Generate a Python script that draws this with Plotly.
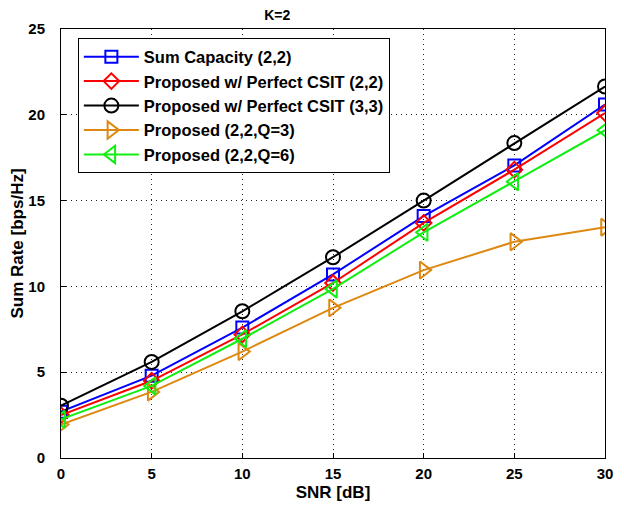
import plotly.graph_objects as go

snr = [0, 5, 10, 15, 20, 25, 30]
sum_cap_22 = [2.7, 4.8, 7.6, 10.7, 14.1, 17.05, 20.6]
perf_22 = [2.5, 4.5, 7.2, 10.2, 13.7, 16.8, 20.1]
perf_33 = [3.05, 5.6, 8.55, 11.7, 15.0, 18.35, 21.65]
q3 = [1.95, 3.85, 6.2, 8.75, 10.95, 12.6, 13.45]
q6 = [2.25, 4.2, 6.95, 9.85, 13.15, 16.1, 19.1]

names = ["Sum Capacity (2,2)", "Proposed w/ Perfect CSIT (2,2)",
         "Proposed w/ Perfect CSIT (3,3)", "Proposed (2,2,Q=3)", "Proposed (2,2,Q=6)"]
series = [sum_cap_22, perf_22, perf_33, q3, q6]
colors = ["#0000FF", "#FF0000", "#000000", "#DD8811", "#11EE11"]
symbols = ["square-open", "diamond-open", "circle-open", "triangle-right-open", "triangle-left-open"]
sizes = [12, 12, 14, 15, 15]

fig = go.Figure()
for n, s, c, m, sz in zip(names, series, colors, symbols, sizes):
    fig.add_trace(go.Scatter(x=snr, y=s, name=n, mode="lines+markers",
                             line=dict(color=c, width=2),
                             marker=dict(symbol=m, size=sz, color=c, line=dict(width=2, color=c))))

fam = "Liberation Sans, Arial, sans-serif"
font = dict(family=fam, size=14, color="black")
axis_common = dict(showline=True, mirror=True, linecolor="black", linewidth=1,
                   ticks="inside", ticklen=5, tickcolor="black",
                   showgrid=True, gridcolor="#222222", griddash="1px,4px", gridwidth=1,
                   zeroline=False, automargin=False,
                   tickfont=dict(family=fam, size=15, color="black", weight="bold"))
# page body has an 8px margin, so the figure is sized to end at the window edges
fig.update_layout(
    width=616, height=502,
    margin=dict(l=53, r=19, t=21, b=52),
    paper_bgcolor="white", plot_bgcolor="white",
    font=font,
    title=dict(text="<b>K=2</b>", x=0.437, xanchor="center", y=0.986, yanchor="middle",
               font=dict(size=14)),
    xaxis=dict(range=[0, 30], dtick=5, ticklabelstandoff=2,
               title=dict(text="<b>SNR [dB]</b>", standoff=5), **axis_common),
    yaxis=dict(range=[0, 25], dtick=5, ticklabelstandoff=12,
               title=dict(text="<b>Sum Rate [bps/Hz]</b>", standoff=0), **axis_common),
    legend=dict(x=0.031, y=0.978, xanchor="left", yanchor="top",
                bgcolor="white", bordercolor="black", borderwidth=1,
                font=dict(size=16.5, weight="bold"), itemwidth=55, tracegroupgap=0),
    showlegend=True,
)
fig.write_html("out.html")
